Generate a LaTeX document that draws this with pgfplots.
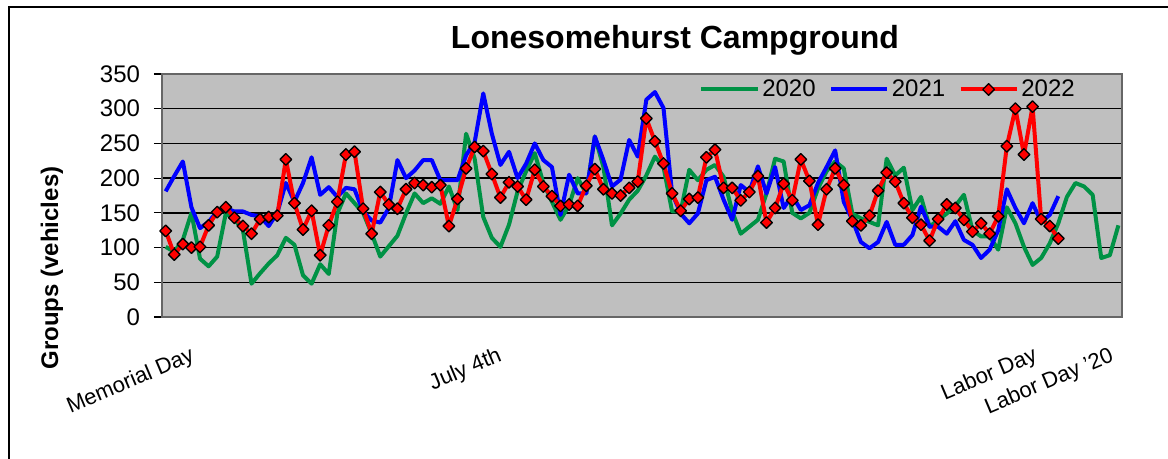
\documentclass[border=0pt]{standalone}
\usepackage{pgfplots}
\pgfplotsset{compat=1.18}
\usepackage{fontspec}
\setmainfont{Liberation Sans}

\definecolor{c2020}{RGB}{0,146,69}
\definecolor{c2021}{RGB}{0,0,255}
\definecolor{c2022}{RGB}{255,0,0}

% values, x = day index from the start of the season
\pgfplotstableread{
x y
0 101
1 94
2 111
3 150
4 84
5 73
6 87
7 149
8 141
9 125
10 48
11 63
12 77
13 89
14 114
15 104
16 60
17 48
18 76
19 62
20 149
21 178
22 164
23 150
24 120
25 87
26 102
27 117
28 149
29 178
30 164
31 171
32 163
33 188
34 154
35 264
36 228
37 144
38 114
39 101
40 133
41 181
42 210
43 236
44 193
45 166
46 140
47 161
48 200
49 178
50 260
51 216
52 132
53 149
54 169
55 182
56 204
57 231
58 216
59 152
60 152
61 212
62 197
63 212
64 219
65 202
66 152
67 120
68 130
69 140
70 178
71 228
72 224
73 150
74 142
75 150
76 185
77 210
78 224
79 214
80 149
81 142
82 137
83 132
84 228
85 204
86 215
87 154
88 173
89 130
90 140
91 149
92 160
93 176
94 125
95 116
96 116
97 97
98 158
99 135
100 101
101 75
102 85
103 106
104 135
105 173
106 193
107 188
108 176
109 85
110 89
111 132
}\tabtwenty

\pgfplotstableread{
x y
0 181
1 203
2 224
3 158
4 128
5 137
6 152
7 157
8 152
9 152
10 147
11 145
12 131
13 150
14 193
15 166
16 193
17 230
18 176
19 187
20 173
21 186
22 184
23 152
24 139
25 136
26 157
27 226
28 200
29 211
30 226
31 226
32 197
33 197
34 197
35 233
36 252
37 322
38 264
39 219
40 238
41 200
42 221
43 250
44 226
45 216
46 147
47 205
48 178
49 178
50 260
51 226
52 188
53 198
54 255
55 231
56 313
57 324
58 301
59 178
60 149
61 135
62 149
63 197
64 202
65 169
66 140
67 190
68 180
69 217
70 178
71 216
72 157
73 175
74 154
75 161
76 193
77 216
78 240
79 166
80 140
81 108
82 99
83 108
84 137
85 104
86 104
87 118
88 159
89 130
90 130
91 120
92 138
93 111
94 104
95 85
96 97
97 125
98 184
99 157
100 135
101 164
102 137
103 147
104 174
}\tabtwentyone

\pgfplotstableread{
x y
0 124
1 90
2 105
3 100
4 101
5 132
6 151
7 158
8 143
9 131
10 120
11 141
12 144
13 146
14 227
15 164
16 126
17 153
18 89
19 132
20 166
21 234
22 238
23 156
24 120
25 180
26 162
27 156
28 184
29 193
30 190
31 187
32 190
33 131
34 170
35 214
36 245
37 239
38 206
39 172
40 194
41 188
42 169
43 212
44 188
45 174
46 160
47 162
48 160
49 189
50 213
51 184
52 178
53 175
54 186
55 195
56 286
57 253
58 221
59 178
60 153
61 170
62 172
63 230
64 241
65 186
66 186
67 168
68 180
69 203
70 136
71 157
72 192
73 168
74 227
75 196
76 133
77 184
78 214
79 190
80 138
81 132
82 146
83 182
84 208
85 195
86 164
87 143
88 133
89 110
90 141
91 162
92 157
93 140
94 123
95 135
96 120
97 145
98 246
99 300
100 234
101 303
102 141
103 131
104 113
}\tabtwentytwo

\begin{document}
\begin{tikzpicture}
\useasboundingbox (0,0) rectangle (876pt,343.5pt);
% frame of the chart object (cropped)
\draw[line width=1.1pt] (6.75pt,-5pt) -- (6.75pt,338.25pt) -- (880pt,338.25pt);

\begin{axis}[
  at={(121.5pt,105.75pt)}, anchor=south west,
  scale only axis, width=720pt, height=182.25pt,
  xmin=-0.43, xmax=111.42, ymin=0, ymax=350,
  ytick={0,50,...,350},
  xtick={2.3,38.1,100.5,109.4},
  xticklabels={Memorial Day,July 4th,Labor Day,Labor Day '20},
  xtick style={draw=none},
  ytick pos=left, tick align=outside, major tick length=6pt,
  ytick style={black, line width=0.8pt},
  ymajorgrids, grid style={black, line width=1.1pt},
  axis background/.style={fill=gray!50},
  axis line style={draw=black!60, line width=1.8pt},
  /pgf/number format/assume math mode=true,
  yticklabel style={font=\fontsize{18}{20}\selectfont, xshift=-7pt},
  xticklabel style={font=\fontsize{16.5}{19}\selectfont, rotate=23, anchor=north east, yshift=-12pt},
  legend style={at={(0.958,0.998)}, anchor=north east, draw=none, fill=none,
    legend columns=3, font=\fontsize{18}{20}\selectfont,
    /tikz/every even column/.append style={column sep=8pt}},
  legend image code/.code={\draw[mark repeat=2,mark phase=2,#1] plot coordinates {(0cm,0cm) (0.74cm,0cm) (1.48cm,0cm)};},
  every axis plot/.append style={line width=3pt, line join=round},
]
\addplot[c2020, no marks] table {\tabtwenty};
\addlegendentry{2020}
\addplot[c2021, no marks] table {\tabtwentyone};
\addlegendentry{2021}
\addplot[c2022, mark=square*, mark size=3.1pt,
  mark options={rotate=45, fill=c2022, draw=black, line width=1pt}] table {\tabtwentytwo};
\addlegendentry{2022}
\end{axis}

\node[font=\fontsize{24}{27}\selectfont\bfseries] at (506.25pt,313.5pt) {Lonesomehurst Campground};
\node[font=\fontsize{18}{20}\selectfont\bfseries, rotate=90] at (39pt,142.5pt) {Groups (vehicles)};
\end{tikzpicture}
\end{document}
